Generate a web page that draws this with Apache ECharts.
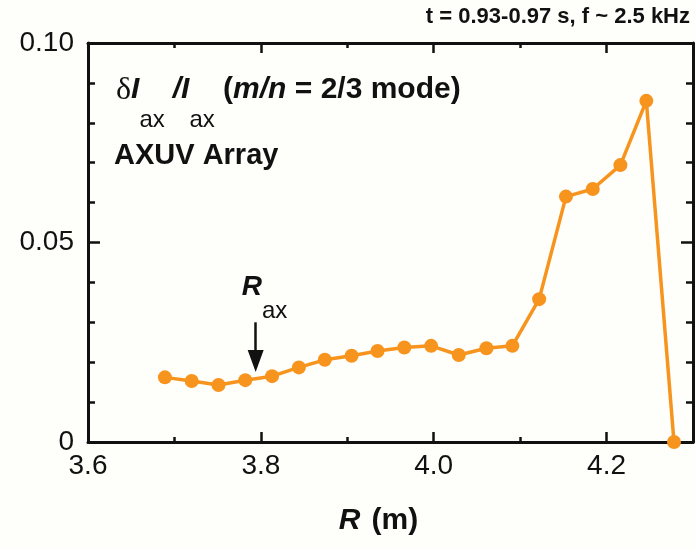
<!DOCTYPE html>
<html>
<head>
<meta charset="utf-8">
<script src="https://cdn.jsdelivr.net/npm/echarts@6/dist/echarts.min.js"></script>
<style>
  html, body { margin: 0; padding: 0; background: #fefefb; }
  #chart { width: 695px; height: 550px; }
</style>
</head>
<body>
<div id="chart"></div>
<script>
// Major radius of each AXUV chord (m)
const radius = [3.689, 3.720, 3.751, 3.782, 3.813, 3.844, 3.874, 3.905, 3.935, 3.966,
                3.997, 4.029, 4.061, 4.091, 4.122, 4.153, 4.184, 4.216, 4.246, 4.278];
// Relative fluctuation amplitude dI/I of the m/n = 2/3 mode
const amplitude = [0.0162, 0.0153, 0.0143, 0.0155, 0.0165, 0.0187, 0.0206, 0.0216, 0.0228, 0.0237,
                   0.0241, 0.0218, 0.0235, 0.0241, 0.0358, 0.0615, 0.0634, 0.0694, 0.0855, 0.0];
// Axis ranges and tick labels
const xRange = [3.6, 4.3];
const yRange = [0, 0.10];
const yTickLabels = { '0': '0', '0.05': '0.05', '0.1': '0.10' };
// Magnetic axis position and the arrow marking it
const R_AX = 3.794;
const arrowSpan = [0.030, 0.0203];

const FONT = "'Liberation Sans', Arial, Helvetica, sans-serif";
const ORANGE = '#f7941e';
const INK = '#111111';

const chart = echarts.init(document.getElementById('chart'), null, { renderer: 'canvas' });

function xAxisDef(position, major) {
  return {
    type: 'value', position: position, min: xRange[0], max: xRange[1],
    interval: major ? 0.2 : 0.1,
    axisLine: { show: major, lineStyle: { color: INK, width: 3 } },
    axisTick: { show: true, inside: true, length: major ? 10 : 5, lineStyle: { color: INK, width: 2.5 } },
    axisLabel: {
      show: major && position === 'bottom', color: INK, fontSize: 28, fontFamily: FONT, margin: 10,
      showMaxLabel: false, formatter: v => v.toFixed(1)
    },
    splitLine: { show: false }
  };
}
function yAxisDef(position) {
  return {
    type: 'value', position: position, min: yRange[0], max: yRange[1], interval: 0.05,
    axisLine: { show: true, lineStyle: { color: INK, width: 3 } },
    axisTick: { show: true, inside: true, length: 12, lineStyle: { color: INK, width: 2.5 } },
    minorTick: { show: true, splitNumber: 5, length: 7, lineStyle: { color: INK, width: 2.5 } },
    axisLabel: {
      show: position === 'left', color: INK, fontSize: 28, fontFamily: FONT, margin: 14,
      padding: [0, 0, 8, 0],
      formatter: v => yTickLabels[String(+v.toFixed(2))] || ''
    },
    splitLine: { show: false }
  };
}

const option = {
  backgroundColor: '#fefefb',
  animation: false,
  grid: { left: 88, right: 2, top: 43, bottom: 108, containLabel: false },
  xAxis: [
    Object.assign(xAxisDef('bottom', true), {
      name: '{r|R}{u|(m)}', nameLocation: 'middle', nameGap: 64,
      nameTextStyle: {
        padding: [0, 24, 0, 0],
        rich: {
          r: { fontSize: 30, fontWeight: 'bold', fontStyle: 'italic', fontFamily: FONT, color: INK, padding: [0, 11, 0, 0] },
          u: { fontSize: 30, fontWeight: 'bold', fontFamily: FONT, color: INK }
        }
      }
    }),
    xAxisDef('bottom', false),
    xAxisDef('top', true),
    xAxisDef('top', false)
  ],
  yAxis: [yAxisDef('left'), yAxisDef('right')],
  series: [{
    type: 'line',
    xAxisIndex: 0, yAxisIndex: 0,
    data: radius.map((r, i) => [r, amplitude[i]]),
    symbol: 'circle', symbolSize: 14,
    lineStyle: { color: ORANGE, width: 3.5 },
    itemStyle: { color: ORANGE },
    z: 3,
    markLine: {
      silent: true,
      symbol: ['none', 'triangle'],
      symbolSize: [16, 22],
      label: { show: false },
      lineStyle: { color: INK, width: 2.5, type: 'solid' },
      data: [[{ coord: [R_AX, arrowSpan[0]] }, { coord: [R_AX, arrowSpan[1]] }]]
    }
  }],
  graphic: [
    {
      type: 'text', right: 5, top: 6,
      style: { text: 't = 0.93-0.97 s, f ~ 2.5 kHz', font: "bold 22px " + FONT, fill: INK }
    },
    {
      type: 'text', left: 116, top: 75,
      style: {
        text: '{d|δ}{i|I}{s|ax}{sl|/I}{s|ax}{n| (}{i|m/n}{n| = 2/3 mode)}',
        rich: {
          d: { fontSize: 32, fontFamily: "'Liberation Serif', 'Times New Roman', serif", lineHeight: 34, verticalAlign: 'top', fill: INK },
          i: { fontSize: 30, fontWeight: 'bold', fontStyle: 'italic', fontFamily: FONT, lineHeight: 34, verticalAlign: 'top', fill: INK },
          sl: { fontSize: 30, fontWeight: 'bold', fontStyle: 'italic', fontFamily: FONT, lineHeight: 34, verticalAlign: 'top', fill: INK, padding: [0, 0, 0, 8] },
          n: { fontSize: 30, fontWeight: 'bold', fontFamily: FONT, lineHeight: 34, verticalAlign: 'top', fill: INK },
          s: { fontSize: 24, fontFamily: FONT, lineHeight: 90, fill: INK }
        }
      }
    },
    {
      type: 'text', left: 114, top: 141,
      style: { text: 'AXUV Array', font: "bold 29px " + FONT, fill: INK }
    }
  ]
};

chart.setOption(option);

// R_ax label sits just above the arrow's tail
const tail = chart.convertToPixel({ xAxisIndex: 0, yAxisIndex: 0 }, [R_AX, arrowSpan[0]]);
chart.setOption({
  graphic: [{
    id: 'rax', type: 'text', x: tail[0] - 14, y: tail[1] - 49,
    style: {
      text: '{r|R}{s|ax}',
      rich: {
        r: { fontSize: 28, fontWeight: 'bold', fontStyle: 'italic', fontFamily: FONT, lineHeight: 30, verticalAlign: 'top', fill: INK },
        s: { fontSize: 24, fontFamily: FONT, lineHeight: 76, fill: INK }
      }
    }
  }]
});
</script>
</body>
</html>
